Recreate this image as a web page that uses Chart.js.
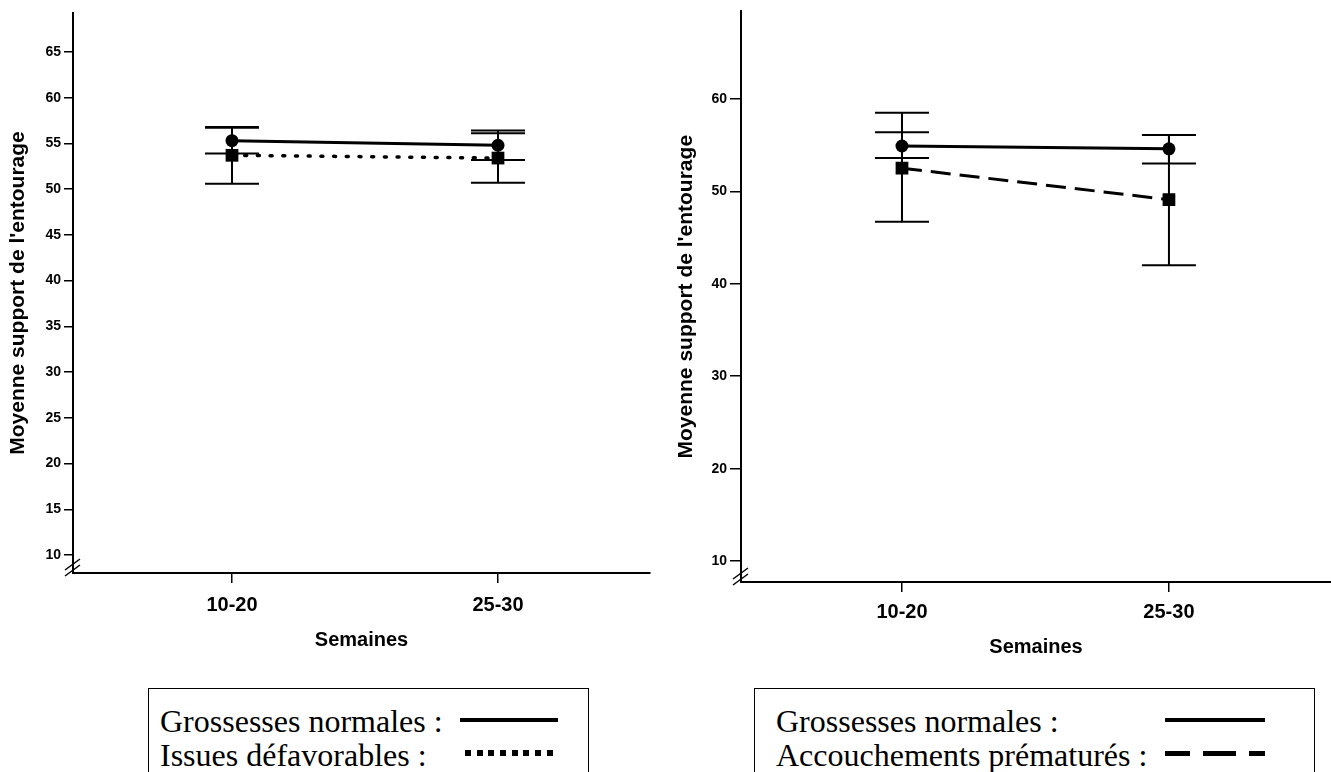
<!DOCTYPE html>
<html>
<head>
<meta charset="utf-8">
<script src="https://cdn.jsdelivr.net/npm/chart.js@4.4.1/dist/chart.umd.min.js"></script>
<style>
html,body{margin:0;padding:0;background:#fff;width:1331px;height:772px;overflow:hidden}
#wrap{position:relative;width:1331px;height:772px;background:#fff}
canvas{position:absolute;top:0}
.legend{position:absolute;box-sizing:border-box;border:1.5px solid #000;background:#fff;
  font-family:'Liberation Serif','Times New Roman',serif;font-size:32px;color:#000}
.row{position:absolute;white-space:nowrap;line-height:36px;height:36px}
.sample{position:absolute}
</style>
</head>
<body>
<div id="wrap">
  <canvas id="c1" width="665" height="680" style="left:0px"></canvas>
  <canvas id="c2" width="666" height="680" style="left:665px"></canvas>

  <div class="legend" style="left:148px;top:688px;width:441px;height:100px">
    <div class="row" style="left:11px;top:14px">Grossesses normales :</div>
    <div class="row" style="left:11px;top:48px">Issues défavorables :</div>
    <div class="sample" style="left:311px;top:29px;width:98px;height:4px;background:#000"></div>
    <div class="sample" style="left:316px;top:61px;width:93px;height:6px;background:repeating-linear-gradient(90deg,#000 0 6px,transparent 6px 11.7px)"></div>
  </div>

  <div class="legend" style="left:754px;top:688px;width:561px;height:100px">
    <div class="row" style="left:21px;top:14px">Grossesses normales :</div>
    <div class="row" style="left:21px;top:48px">Accouchements prématurés :</div>
    <div class="sample" style="left:410px;top:29px;width:100px;height:4px;background:#000"></div>
    <div class="sample" style="left:410px;top:62px;width:100px;height:5px;background:linear-gradient(90deg,#000 0 25px,transparent 25px 38px,#000 38px 71px,transparent 71px 84px,#000 84px 100px)"></div>
  </div>
</div>

<script>
// ---------- data ----------
const categories = ['10-20', '25-30'];
const xPositions = [1, 2];

const yTicksLeft = [10, 15, 20, 25, 30, 35, 40, 45, 50, 55, 60, 65];
const yTicksRight = [10, 20, 30, 40, 50, 60];

// left panel: normal pregnancies vs adverse outcomes
const leftNormalMean = [55.3, 54.8];
const leftNormalLow  = [53.9, 53.2];
const leftNormalHigh = [56.7, 56.4];
const leftAdverseMean = [53.7, 53.4];
const leftAdverseLow  = [50.6, 50.7];
const leftAdverseHigh = [56.8, 56.1];

// right panel: normal pregnancies vs premature deliveries
const rightNormalMean = [54.9, 54.6];
const rightNormalLow  = [53.6, 53.0];
const rightNormalHigh = [56.4, 56.1];
const rightPrematureMean = [52.5, 49.1];
const rightPrematureLow  = [46.7, 42.0];
const rightPrematureHigh = [58.5, 56.1];

const yTitle = "Moyenne support de l'entourage";
const xTitle = 'Semaines';

// ---------- plugins ----------
const errorBarPlugin = {
  id: 'errorBars',
  beforeDatasetsDraw(chart) {
    const { ctx, scales: { x, y } } = chart;
    ctx.save();
    ctx.strokeStyle = '#000';
    ctx.lineWidth = 2;
    chart.data.datasets.forEach(ds => {
      ds.data.forEach((p, i) => {
        const px = x.getPixelForValue(p.x);
        const yl = y.getPixelForValue(ds.low[i]);
        const yh = y.getPixelForValue(ds.high[i]);
        ctx.beginPath();
        ctx.moveTo(px, yl); ctx.lineTo(px, yh);
        ctx.moveTo(px - 27, yl); ctx.lineTo(px + 27, yl);
        ctx.moveTo(px - 27, yh); ctx.lineTo(px + 27, yh);
        ctx.stroke();
      });
    });
    ctx.restore();
  }
};

const axisBreakPlugin = {
  id: 'axisBreak',
  afterDraw(chart) {
    const { ctx, chartArea } = chart;
    const ax = chartArea.left, by = chartArea.bottom - 4;
    ctx.save();
    ctx.strokeStyle = '#000';
    ctx.lineWidth = 1.5;
    ctx.beginPath();
    ctx.moveTo(ax - 8, by + 7); ctx.lineTo(ax + 7, by - 4);
    ctx.moveTo(ax - 8, by + 1); ctx.lineTo(ax + 7, by - 10);
    ctx.stroke();
    ctx.restore();
  }
};

const FONT = "'Liberation Sans', Arial, sans-serif";

function series(means, low, high, style) {
  return Object.assign({
    data: xPositions.map((x, i) => ({ x: x, y: means[i] })),
    low: low, high: high,
    borderColor: '#000', backgroundColor: '#000',
    pointBackgroundColor: '#000', pointBorderColor: '#000', pointBorderWidth: 0,
    borderWidth: 3, tension: 0, fill: false
  }, style);
}

function makeChart(id, cfg) {
  return new Chart(document.getElementById(id), {
    type: 'line',
    data: { datasets: cfg.datasets },
    options: {
      responsive: false, animation: false, devicePixelRatio: 1,
      layout: { autoPadding: false, padding: { top: cfg.top, right: cfg.right, left: 0, bottom: 0 } },
      plugins: { legend: { display: false }, tooltip: { enabled: false } },
      scales: {
        x: {
          type: 'linear', min: cfg.xMin, max: cfg.xMax,
          afterBuildTicks: s => { s.ticks = xPositions.map(v => ({ value: v })); },
          afterFit: s => { s.height = cfg.xHeight; },
          grid: { display: true, drawOnChartArea: false, drawTicks: true, tickLength: 10, color: '#000', lineWidth: 1.5 },
          border: { display: true, color: '#000', width: 2 },
          ticks: {
            callback: v => categories[xPositions.indexOf(v)],
            font: { family: FONT, size: 20, weight: 'bold' }, color: '#000',
            padding: cfg.xTickPad, maxRotation: 0, autoSkip: false
          },
          title: { display: true, text: xTitle, color: '#000',
                   font: { family: FONT, size: 20, weight: 'bold' },
                   padding: { top: 0, bottom: cfg.xTitlePad } }
        },
        y: {
          type: 'linear', min: cfg.yMin, max: cfg.yMax,
          afterBuildTicks: s => { s.ticks = cfg.yTicks.map(v => ({ value: v })); },
          afterFit: s => { s.width = cfg.yWidth; },
          grid: { display: true, drawOnChartArea: false, drawTicks: true, tickLength: cfg.yTickLen, color: '#000', lineWidth: 1.5 },
          border: { display: true, color: '#000', width: 2 },
          ticks: { font: { family: FONT, size: 14, weight: 'bold' }, color: '#000', padding: 3, autoSkip: false },
          title: { display: true, text: yTitle, color: '#000',
                   font: { family: FONT, size: 21, weight: 'bold' },
                   padding: { top: cfg.yTitlePad, bottom: 0 } }
        }
      }
    },
    plugins: [errorBarPlugin, axisBreakPlugin]
  });
}

makeChart('c1', {
  top: 13, right: 15, xHeight: 107, yWidth: 73, yTickLen: 9,
  xMin: 0.4023, xMax: 2.5714, yMin: 8.03, yMax: 69.26,
  yTicks: yTicksLeft, xTickPad: 10, xTitlePad: 28, yTitlePad: 6,
  datasets: [
    series(leftNormalMean, leftNormalLow, leftNormalHigh, { pointStyle: 'circle', pointRadius: 6.5 }),
    series(leftAdverseMean, leftAdverseLow, leftAdverseHigh, { pointStyle: 'rect', pointRadius: 9, borderDash: [2, 10.7], borderCapStyle: 'round', borderWidth: 3.5 })
  ]
});

makeChart('c2', {
  top: 8, right: 0, xHeight: 98, yWidth: 76, yTickLen: 11,
  xMin: 0.397, xMax: 2.607, yMin: 7.74, yMax: 69.46,
  yTicks: yTicksRight, xTickPad: 8, xTitlePad: 21, yTitlePad: 9,
  datasets: [
    series(rightNormalMean, rightNormalLow, rightNormalHigh, { pointStyle: 'circle', pointRadius: 6.5 }),
    series(rightPrematureMean, rightPrematureLow, rightPrematureHigh, { pointStyle: 'rect', pointRadius: 9, borderDash: [20, 9] })
  ]
});
</script>
</body>
</html>
